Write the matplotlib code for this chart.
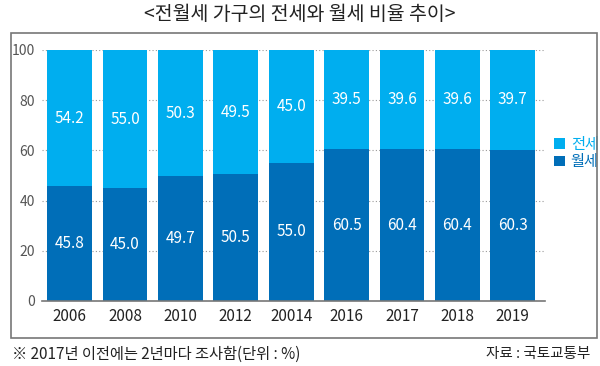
import matplotlib.pyplot as plt
from matplotlib.patches import Rectangle

plt.rcParams['font.family'] = ['Noto Sans CJK KR', 'DejaVu Sans']

years = ['2006', '2008', '2010', '2012', '20014', '2016', '2017', '2018', '2019']
wolse = [45.8, 45.0, 49.7, 50.5, 55.0, 60.5, 60.4, 60.4, 60.3]
jeonse = [54.2, 55.0, 50.3, 49.5, 45.0, 39.5, 39.6, 39.6, 39.7]

light = '#00AEEF'
dark = '#006EB8'

fig = plt.figure(figsize=(6, 3.66), dpi=100)
ax = fig.add_axes([0.07, 0.1776, 0.838, 0.6858])

x = range(len(years))
ax.bar(x, wolse, width=0.81, color=dark, zorder=3, label='월세')
ax.bar(x, jeonse, width=0.81, bottom=wolse, color=light, zorder=3, label='전세')

for i in x:
    ax.text(i, wolse[i] / 2, f'{wolse[i]:.1f}', ha='center', va='center',
            color='white', fontsize=11, zorder=4)
    ax.text(i, wolse[i] + jeonse[i] / 2, f'{jeonse[i]:.1f}', ha='center',
            va='center', color='white', fontsize=11, zorder=4)

ax.set_xlim(-0.5, 8.58)
ax.set_ylim(0, 100)
ax.set_yticks([0, 20, 40, 60, 80, 100])
ax.set_xticks(list(x))
ax.set_xticklabels(years)
ax.yaxis.grid(True, linestyle=(0, (1, 2)), color='#999999', linewidth=0.8, zorder=0)
ax.tick_params(axis='y', length=0, pad=5, labelsize=10, labelcolor='#555555')
ax.tick_params(axis='x', length=0, pad=5, labelsize=11, labelcolor='#222222')
for s in ['top', 'right', 'left']:
    ax.spines[s].set_visible(False)
ax.spines['bottom'].set_color('#777777')
ax.spines['bottom'].set_linewidth(1.2)
ax.spines['bottom'].set_zorder(5)

handles, labels = ax.get_legend_handles_labels()
leg = ax.legend(handles[::-1], labels[::-1], loc='center left',
                bbox_to_anchor=(1.0, 0.59), frameon=False, fontsize=11,
                handlelength=0.7, handleheight=0.7, handletextpad=0.4,
                labelspacing=0.05, borderaxespad=0.2)
leg.get_texts()[0].set_color(light)
leg.get_texts()[1].set_color(dark)

fig.patches.append(Rectangle((11 / 600, 1 - 338 / 366), 586 / 600, 305 / 366,
                             transform=fig.transFigure, fill=False,
                             edgecolor='#777777', linewidth=1.2))

fig.text(0.5, 1 - 15 / 366, '<전월세 가구의 전세와 월세 비율 추이>', ha='center',
         va='center', fontsize=14, fontweight='medium', color='#222222')
fig.text(12 / 600, 1 - 354 / 366, '※ 2017년 이전에는 2년마다 조사함(단위 : %)',
         ha='left', va='center', fontsize=11, color='#222222')
fig.text(590 / 600, 1 - 354 / 366, '자료 : 국토교통부', ha='right',
         va='center', fontsize=10.5, color='#222222')

fig.savefig('out.png', dpi=100)
